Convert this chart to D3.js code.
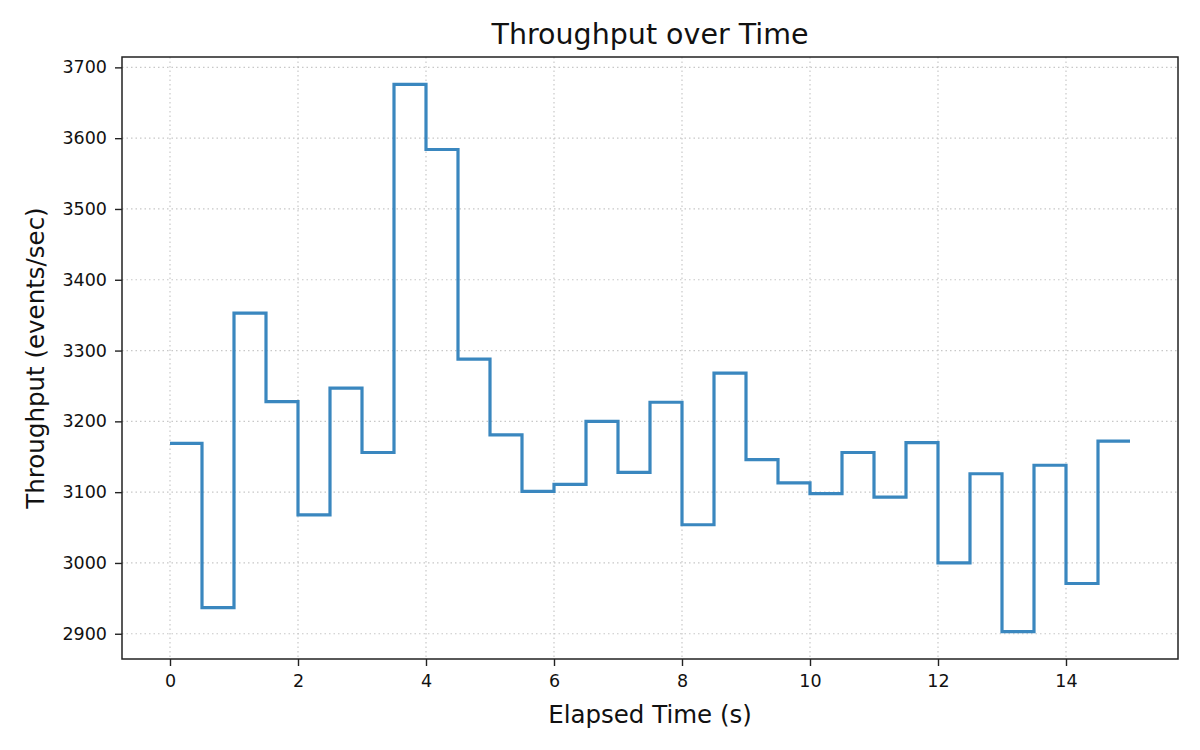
<!DOCTYPE html>
<html>
<head>
<meta charset="utf-8">
<script src="https://cdn.jsdelivr.net/npm/d3@7"></script>
<style>
  body { margin: 0; background: #fff; }
  svg text { font-family: "DejaVu Sans", sans-serif; fill: #111; }
</style>
</head>
<body>
<div id="chart"></div>
<script>
// elapsed time (s) and throughput readings, drawn as a post-step line
var times = [0, 0.5, 1, 1.5, 2, 2.5, 3, 3.5, 4, 4.5, 5, 5.5, 6, 6.5, 7, 7.5,
  8, 8.5, 9, 9.5, 10, 10.5, 11, 11.5, 12, 12.5, 13, 13.5, 14, 14.5, 15];
var throughput = [3169, 2937, 3353, 3228, 3068, 3247, 3156, 3676, 3584, 3288,
  3181, 3101, 3111, 3200, 3128, 3227, 3054, 3268, 3146, 3113, 3098, 3156,
  3093, 3170, 3000, 3126, 2903, 3138, 2971, 3172, 3172];
var xTicks = [0, 2, 4, 6, 8, 10, 12, 14];
var yTicks = [2900, 3000, 3100, 3200, 3300, 3400, 3500, 3600, 3700];

var W = 1200, H = 750,
    m = {t:57, r:22, b:91, l:122},
    w = W - m.l - m.r,
    h = H - m.t - m.b;

var data = times.map(function(t, i){ return {t: t, v: throughput[i]}; });

var svg = d3.select("#chart")
  .append("svg")
  .attr("width", W)
  .attr("height", H);

var g = svg.append("g")
  .attr("transform", "translate(" + m.l + "," + m.t + ")");

// matplotlib-like 5% margins
var xPad = (d3.max(times) - d3.min(times)) * 0.05,
    yPad = (d3.max(throughput) - d3.min(throughput)) * 0.05;

var x = d3.scaleLinear()
  .domain([d3.min(times) - xPad, d3.max(times) + xPad])
  .range([0, w]);

var y = d3.scaleLinear()
  .domain([d3.min(throughput) - yPad, d3.max(throughput) + yPad])
  .range([h, 0]);

// grid
g.append("g").selectAll("line")
  .data(xTicks)
  .enter().append("line")
  .attr("x1", function(d){ return x(d); })
  .attr("x2", function(d){ return x(d); })
  .attr("y1", 0).attr("y2", h)
  .style("stroke", "#c8c8c8").style("stroke-width", 1.2)
  .style("stroke-dasharray", "1.5,3");

g.append("g").selectAll("line")
  .data(yTicks)
  .enter().append("line")
  .attr("y1", function(d){ return y(d); })
  .attr("y2", function(d){ return y(d); })
  .attr("x1", 0).attr("x2", w)
  .style("stroke", "#c8c8c8").style("stroke-width", 1.2)
  .style("stroke-dasharray", "1.5,3");

// step line
var line = d3.line()
  .x(function(d){ return x(d.t); })
  .y(function(d){ return y(d.v); })
  .curve(d3.curveStepAfter);

g.append("path")
  .datum(data)
  .attr("d", line)
  .style("fill", "none")
  .style("stroke", "#3a87bf")
  .style("stroke-width", 3.2)
  .style("stroke-linejoin", "miter");

// axes
var xAxis = g.append("g")
  .attr("transform", "translate(0," + h + ")")
  .call(d3.axisBottom(x).tickValues(xTicks).tickSize(7).tickPadding(9).tickFormat(d3.format("d")));

var yAxis = g.append("g")
  .call(d3.axisLeft(y).tickValues(yTicks).tickSize(7).tickPadding(8).tickFormat(d3.format("d")));

[xAxis, yAxis].forEach(function(a){
  a.select(".domain").remove();
  a.selectAll(".tick line").style("stroke", "#222").style("stroke-width", 1.4);
  a.selectAll(".tick text")
    .attr("font-family", "DejaVu Sans, sans-serif")
    .attr("font-size", "17.5px")
    .style("fill", "#111");
});

// frame
g.append("rect")
  .attr("width", w).attr("height", h)
  .style("fill", "none")
  .style("stroke", "#222")
  .style("stroke-width", 1.5);

// labels
svg.append("text")
  .attr("x", m.l + w/2).attr("y", 44)
  .attr("text-anchor", "middle")
  .attr("font-size", "28.5px")
  .text("Throughput over Time");

svg.append("text")
  .attr("x", m.l + w/2).attr("y", 723)
  .attr("text-anchor", "middle")
  .attr("font-size", "24.5px")
  .text("Elapsed Time (s)");

svg.append("text")
  .attr("transform", "translate(44," + (m.t + h/2) + ") rotate(-90)")
  .attr("text-anchor", "middle")
  .attr("font-size", "24.5px")
  .text("Throughput (events/sec)");
</script>
</body>
</html>
